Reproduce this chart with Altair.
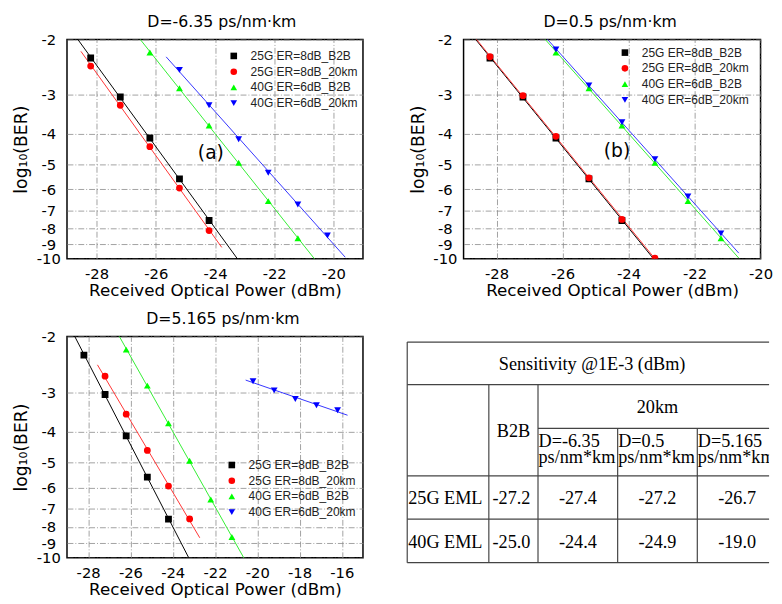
import altair as alt
import pandas as pd

FONT = "DejaVu Sans"
LEG_FONT = "Liberation Sans"
SERIF = "Liberation Serif"

# ---------------- data ----------------
SERIES = ["25G ER=8dB_B2B", "25G ER=8dB_20km", "40G ER=6dB_B2B", "40G ER=6dB_20km"]
MARK_COLORS = ["#000000", "#ff0000", "#00ff00", "#0000ff"]
LINE_COLORS = ["#000000", "#ff3333", "#33ee33", "#3333ff"]
SHAPES = ["square", "circle", "triangle-up", "triangle-down"]

# received optical power (dBm)
P_25G = [-28.2, -27.2, -26.2, -25.2, -24.2]
P_25G_B = [-28.2, -27.2, -26.2, -25.2, -24.2, -23.2]
P_25G_C = [-27.2, -26.2, -25.2, -24.2, -23.2]
P_40G = [-26.2, -25.2, -24.2, -23.2, -22.2, -21.2]
P_40G_A = [-25.2, -24.2, -23.2, -22.2, -21.2, -20.2]
P_40G_C = [-20.2, -19.2, -18.2, -17.2, -16.2]

# log10(BER)
B2B_25G = [-2.29, -3.05, -4.12, -5.56, -7.55]
B2B_40G = [-2.20, -2.86, -3.76, -4.94, -6.55, -8.60]
A_20KM_25G = [-2.43, -3.24, -4.39, -5.95, -8.13]
A_20KM_40G = [-2.50, -3.24, -4.16, -5.32, -6.71, -8.43]
B_20KM_25G = [-2.27, -3.02, -4.07, -5.52, -7.49, -9.95]
B_20KM_40G = [-2.15, -2.80, -3.67, -4.81, -6.33, -8.30]
C_20KM_25G = [-2.67, -3.52, -4.58, -5.94, -7.54]
C_20KM_40G = [-2.77, -2.96, -3.15, -3.30, -3.42]

TITLES = ["D=-6.35 ps/nm\u00b7km", "D=0.5 ps/nm\u00b7km", "D=5.165 ps/nm\u00b7km"]
X_DOMAINS = [[-29, -19], [-29, -20], [-29, -15]]
X_TICKS = [[-28, -26, -24, -22, -20], [-28, -26, -24, -22, -20],
           [-28, -26, -24, -22, -20, -18, -16]]
Y_TICKS = [2, 3, 4, 5, 6, 7, 8, 9, 10]   # shown as -2 ... -10

PANEL_SERIES = [
    [(P_25G, B2B_25G), (P_25G, A_20KM_25G), (P_40G, B2B_40G), (P_40G_A, A_20KM_40G)],
    [(P_25G, B2B_25G), (P_25G_B, B_20KM_25G), (P_40G, B2B_40G), (P_40G, B_20KM_40G)],
    [(P_25G, B2B_25G), (P_25G_C, C_20KM_25G), (P_40G, B2B_40G), (P_40G_C, C_20KM_40G)],
]
# x-range (dBm) over which each fitted line is drawn
FIT_EXTENTS = [
    [[-28.7, -23.1], [-28.53, -23.77], [-26.55, -20.55], [-25.65, -19.6]],
    [[-28.7, -23.1], [-28.7, -23.1], [-26.55, -20.66], [-26.5, -20.66]],
    [[-28.7, -23.1], [-27.56, -22.72], [-26.55, -20.55], [-20.55, -15.73]],
]
TAGS = ["(a)", "(b)", ""]
TAG_POS = [(-24.14, -4.6), (-24.35, -4.55), None]

# table
TBL_TITLE = "Sensitivity @1E-3 (dBm)"
TBL_SPAN = "20km"
TBL_B2B = "B2B"
TBL_DISP = ["D=-6.35", "D=0.5", "D=5.165"]
TBL_UNIT = "ps/nm*km"
TBL_ROWS = ["25G EML", "40G EML"]
SENS_B2B = [-27.2, -25.0]
SENS_20KM = [[-27.4, -27.2, -26.7], [-24.4, -24.9, -19.0]]

# ---------------- layout ----------------
PANEL_W = [301, 302, 301]
PANEL_H = [223, 223, 225]
TITLE_DX = [7, -2, 8]
LEGEND_XY = [(163.5, 10.6), (158, 7.2), (161.5, 124.6)]
COL_GAP, ROW_GAP = 102.3, 79
TBL_W, TBL_H = 310.7, 230          # table panel sits in the 2nd column, 2nd row
TBL_LEFT = -57.3                   # table starts left of that column
COL_W = [83, 50, 81, 81, 81]
ROW_H = [43.3, 44.4, 48.3, 44, 44.3]
TBL_TOP = 5.7

# ---------------- BER panels ----------------
recs = []
for k, ser in enumerate(PANEL_SERIES):
    for i, (ps, ls) in enumerate(ser):
        for p, l in zip(ps, ls):
            recs.append({"panel": k, "s": SERIES[i], "p": p, "lb": l})
df = pd.DataFrame(recs)


def make_panel(k):
    xenc = alt.X("p:Q",
                 scale=alt.Scale(domain=X_DOMAINS[k], nice=False, zero=False),
                 axis=alt.Axis(values=X_TICKS[k], labelExpr="'-' + abs(datum.value)",
                               title="Received Optical Power (dBm)", labelFlush=False,
                               labelPadding=8, titlePadding=1.5))
    yenc = alt.Y("nl:Q",
                 scale=alt.Scale(type="log", domain=[2, 10], reverse=True, nice=False),
                 axis=alt.Axis(values=Y_TICKS, labelExpr="'-' + datum.value",
                               title="log\u2081\u2080(BER)", labelOverlap=False,
                               labelBound=False, labelAlign="center",
                               labelPadding=19, titlePadding=5.5))
    leg = alt.Legend(orient="none", legendX=LEGEND_XY[k][0], legendY=LEGEND_XY[k][1],
                     title=None, labelFont=LEG_FONT, labelFontSize=12.2, labelColor="#222222",
                     symbolSize=45, rowPadding=3, labelOffset=11, padding=0)
    base = alt.Chart(df).transform_filter(alt.datum.panel == k)
    layers = []
    for i, ext in enumerate(FIT_EXTENTS[k]):
        ln = (base.transform_filter(alt.datum.s == SERIES[i])
              .transform_calculate(lnn="log(-datum.lb)")
              .transform_regression("p", "lnn", method="linear", extent=ext)
              .transform_calculate(nl="exp(datum.lnn)")
              .mark_line(clip=True, strokeWidth=1, color=LINE_COLORS[i])
              .encode(x=xenc, y=yenc))
        layers.append(ln)
    pts = (base.transform_calculate(nl="-datum.lb")
           .mark_point(filled=True, size=48, opacity=1, clip=True)
           .encode(x=xenc, y=yenc,
                   color=alt.Color("s:N", scale=alt.Scale(domain=SERIES, range=MARK_COLORS), legend=leg),
                   shape=alt.Shape("s:N", scale=alt.Scale(domain=SERIES, range=SHAPES), legend=leg)))
    layers.append(pts)
    if TAG_POS[k] is not None:
        tdf = pd.DataFrame({"p": [TAG_POS[k][0]], "lb": [TAG_POS[k][1]], "t": [TAGS[k]]})
        tag = (alt.Chart(tdf).transform_calculate(nl="-datum.lb")
               .mark_text(font=FONT, fontSize=19, color="#000000")
               .encode(x=xenc, y=yenc, text="t:N"))
        layers.append(tag)
    return alt.layer(*layers).properties(
        width=PANEL_W[k], height=PANEL_H[k],
        title=alt.TitleParams(TITLES[k], dx=TITLE_DX[k]))


A = make_panel(0)
B = make_panel(1)
C = make_panel(2)

# ---------------- table ----------------
cx = [TBL_LEFT]
for w in COL_W:
    cx.append(cx[-1] + w)
ry = [TBL_TOP]
for h in ROW_H:
    ry.append(ry[-1] + h)
xr = min(cx[5], TBL_W)   # right part of the table lies outside the picture

rules = [
    (cx[0], xr, ry[0], ry[0]), (cx[0], xr, ry[1], ry[1]),
    (cx[2], xr, ry[2], ry[2]), (cx[0], xr, ry[3], ry[3]),
    (cx[0], xr, ry[4], ry[4]), (cx[0], xr, ry[5], ry[5]),
    (cx[0], cx[0], ry[0], ry[5]), (cx[1], cx[1], ry[1], ry[5]),
    (cx[2], cx[2], ry[1], ry[5]), (cx[3], cx[3], ry[2], ry[5]),
    (cx[4], cx[4], ry[2], ry[5]),
]
rule_df = pd.DataFrame(rules, columns=["x", "x2", "y", "y2"])

center_txt = [
    (TBL_TITLE, (cx[0] + cx[5]) / 2, (ry[0] + ry[1]) / 2 + 1),
    (TBL_SPAN, (cx[2] + cx[5]) / 2, (ry[1] + ry[2]) / 2 + 1),
    (TBL_B2B, (cx[1] + cx[2]) / 2, (ry[1] + ry[3]) / 2 + 1),
]
left_txt = []
edge_txt = []   # header cells of the last column, cut at the picture edge
for j, d in enumerate(TBL_DISP):
    dest = edge_txt if j == 2 else left_txt
    dest.append((d, cx[2 + j] + 0.5, ry[2] + 13))
    dest.append((TBL_UNIT, cx[2 + j] + 0.5, ry[2] + 29))
for r, name in enumerate(TBL_ROWS):
    ymid = (ry[3 + r] + ry[4 + r]) / 2 + 1
    left_txt.append((name, cx[0] + 1, ymid))
    center_txt.append((f"{SENS_B2B[r]:.1f}", (cx[1] + cx[2]) / 2 - 2, ymid))
    for j in range(3):
        center_txt.append((f"{SENS_20KM[r][j]:.1f}", (cx[2 + j] + cx[3 + j]) / 2, ymid))

ctr_df = pd.DataFrame(center_txt, columns=["t", "x", "y"])
lft_df = pd.DataFrame(left_txt, columns=["t", "x", "y"])
edg_df = pd.DataFrame(edge_txt, columns=["t", "x", "y"])

tx = alt.X("x:Q", scale=alt.Scale(domain=[0, TBL_W], nice=False, zero=False), axis=None)
ty = alt.Y("y:Q", scale=alt.Scale(domain=[0, TBL_H], nice=False, zero=False, reverse=True), axis=None)

txt_style = dict(font=SERIF, fontSize=18.5, baseline="middle", color="#000000")
t_rules = alt.Chart(rule_df).mark_rule(color="#444444", strokeWidth=1.2).encode(
    x=tx, x2="x2:Q", y=ty, y2="y2:Q")
t_ctr = alt.Chart(ctr_df).mark_text(align="center", **txt_style).encode(x=tx, y=ty, text="t:N")
t_lft = alt.Chart(lft_df).mark_text(align="left", **txt_style).encode(x=tx, y=ty, text="t:N")
t_edg = alt.Chart(edg_df).mark_text(align="left", clip=True, **txt_style).encode(x=tx, y=ty, text="t:N")
T = alt.layer(t_rules, t_ctr, t_lft, t_edg).properties(
    width=TBL_W, height=TBL_H, view=alt.ViewBackground(stroke="transparent"))

chart = (alt.concat(A, B, C, T, columns=2, bounds="flush", align="each",
                    spacing={"row": ROW_GAP, "column": COL_GAP})
         .resolve_scale(color="independent", shape="independent")
         .resolve_legend(color="independent", shape="independent")
         .properties(padding={"left": 4, "top": 0, "right": 0, "bottom": 0})
         .configure_axis(labelFont=FONT, labelFontSize=15, labelColor="#000000",
                         titleFont=FONT, titleFontSize=17, titleFontWeight="normal",
                         titleColor="#000000", domain=False, ticks=False, tickSize=0,
                         gridColor="#8a8a8a", gridDash=[6, 2, 1, 2], gridWidth=0.8)
         .configure_axisY(titleFontSize=17.5)
         .configure_view(stroke="#000000", strokeWidth=1.5)
         .configure_title(font=FONT, fontSize=16, fontWeight="normal", color="#000000",
                          anchor="middle", frame="group", baseline="alphabetic", offset=3.2))

chart.save("out.html", embed_options={"renderer": "svg", "actions": False})
